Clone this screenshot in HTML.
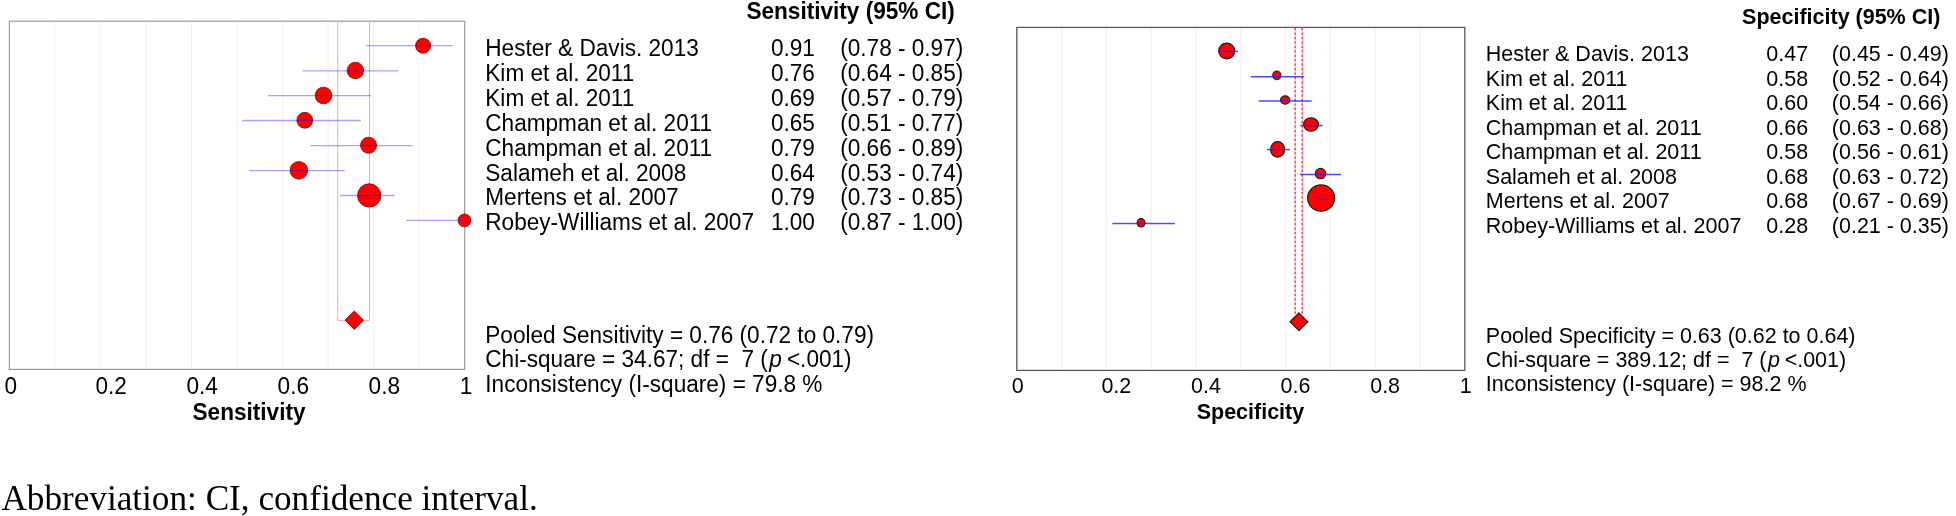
<!DOCTYPE html>
<html><head><meta charset="utf-8"><title>Forest plot</title>
<style>
html,body{margin:0;padding:0;background:#fff;}
body{width:1956px;height:516px;overflow:hidden;position:relative;}
svg{position:absolute;left:0;top:0;will-change:transform;}
.s{font-family:"Liberation Sans",Arial,sans-serif;fill:#000;}
.cap{position:absolute;left:0;top:0;font-family:"Liberation Serif","Times New Roman",serif;color:#000;white-space:pre;}
</style></head><body>
<svg width="1956" height="516" viewBox="0 0 1956 516">

<g id="left">
<line x1="54.9" y1="22" x2="54.9" y2="369" stroke="#f0dcec" stroke-width="1" stroke-dasharray="1 1"/>
<line x1="100.5" y1="22" x2="100.5" y2="369" stroke="#f0dcec" stroke-width="1" stroke-dasharray="1 1"/>
<line x1="146.0" y1="22" x2="146.0" y2="369" stroke="#f0dcec" stroke-width="1" stroke-dasharray="1 1"/>
<line x1="191.5" y1="22" x2="191.5" y2="369" stroke="#f0dcec" stroke-width="1" stroke-dasharray="1 1"/>
<line x1="237.1" y1="22" x2="237.1" y2="369" stroke="#f0dcec" stroke-width="1" stroke-dasharray="1 1"/>
<line x1="282.6" y1="22" x2="282.6" y2="369" stroke="#f0dcec" stroke-width="1" stroke-dasharray="1 1"/>
<line x1="328.1" y1="22" x2="328.1" y2="369" stroke="#f0dcec" stroke-width="1" stroke-dasharray="1 1"/>
<line x1="373.6" y1="22" x2="373.6" y2="369" stroke="#f0dcec" stroke-width="1" stroke-dasharray="1 1"/>
<line x1="419.2" y1="22" x2="419.2" y2="369" stroke="#f0dcec" stroke-width="1" stroke-dasharray="1 1"/>
<rect x="9.4" y="21.2" width="455.3" height="348.2" fill="none" stroke="#999999" stroke-width="1.2"/>
<path d="M337.7 21.2 V320.4 H369.5 V21.2" fill="none" stroke="#f5aaa6" stroke-width="1"/>
<circle cx="423.1" cy="45.7" r="7.55" fill="#ff0000" stroke="#6a0000" stroke-width="0.7"/>
<circle cx="355.4" cy="70.5" r="8.30" fill="#ff0000" stroke="#6a0000" stroke-width="0.7"/>
<circle cx="323.5" cy="95.5" r="8.35" fill="#ff0000" stroke="#6a0000" stroke-width="0.7"/>
<circle cx="304.8" cy="120.3" r="7.95" fill="#ff0000" stroke="#6a0000" stroke-width="0.7"/>
<circle cx="368.6" cy="145.3" r="8.05" fill="#ff0000" stroke="#6a0000" stroke-width="0.7"/>
<circle cx="298.9" cy="170.3" r="8.85" fill="#ff0000" stroke="#6a0000" stroke-width="0.7"/>
<circle cx="369.2" cy="195.4" r="11.70" fill="#ff0000" stroke="#6a0000" stroke-width="0.7"/>
<circle cx="464.5" cy="220.4" r="6.45" fill="#ff0000" stroke="#6a0000" stroke-width="0.7"/>
<line x1="365.9" y1="45.6" x2="452.7" y2="45.6" stroke="#0000ff" stroke-opacity="0.36" stroke-width="1.3"/>
<line x1="302.6" y1="70.8" x2="398.2" y2="70.8" stroke="#0000ff" stroke-opacity="0.36" stroke-width="1.3"/>
<line x1="268.0" y1="95.6" x2="371.0" y2="95.6" stroke="#0000ff" stroke-opacity="0.36" stroke-width="1.3"/>
<line x1="242.1" y1="120.5" x2="360.9" y2="120.5" stroke="#0000ff" stroke-opacity="0.36" stroke-width="1.3"/>
<line x1="310.3" y1="145.6" x2="412.9" y2="145.6" stroke="#0000ff" stroke-opacity="0.36" stroke-width="1.3"/>
<line x1="249.1" y1="170.6" x2="344.7" y2="170.6" stroke="#0000ff" stroke-opacity="0.36" stroke-width="1.3"/>
<line x1="339.9" y1="195.5" x2="394.5" y2="195.5" stroke="#0000ff" stroke-opacity="0.36" stroke-width="1.3"/>
<line x1="406.2" y1="220.3" x2="464.7" y2="220.3" stroke="#0000ff" stroke-opacity="0.36" stroke-width="1.3"/>
<path d="M354.3 311 L363.6 320.2 L354.3 329.4 L345 320.2 Z" fill="#ff0000" stroke="#450000" stroke-width="0.8"/>
</g>
<g id="right">
<line x1="1061.6" y1="28" x2="1061.6" y2="370" stroke="#f1ecf2" stroke-width="1"/>
<line x1="1106.4" y1="28" x2="1106.4" y2="370" stroke="#f1ecf2" stroke-width="1"/>
<line x1="1151.2" y1="28" x2="1151.2" y2="370" stroke="#f1ecf2" stroke-width="1"/>
<line x1="1196.0" y1="28" x2="1196.0" y2="370" stroke="#f1ecf2" stroke-width="1"/>
<line x1="1240.8" y1="28" x2="1240.8" y2="370" stroke="#f1ecf2" stroke-width="1"/>
<line x1="1285.6" y1="28" x2="1285.6" y2="370" stroke="#f1ecf2" stroke-width="1"/>
<line x1="1330.4" y1="28" x2="1330.4" y2="370" stroke="#f1ecf2" stroke-width="1"/>
<line x1="1375.2" y1="28" x2="1375.2" y2="370" stroke="#f1ecf2" stroke-width="1"/>
<line x1="1420.0" y1="28" x2="1420.0" y2="370" stroke="#f1ecf2" stroke-width="1"/>
<rect x="1016.8" y="27.4" width="448" height="343" fill="none" stroke="#5a5a55" stroke-width="1.3"/>
<line x1="1295.2" y1="28.1" x2="1295.2" y2="314" stroke="#ffc4cc" stroke-width="1.3"/>
<line x1="1295.2" y1="28.1" x2="1295.2" y2="314" stroke="#ff3040" stroke-width="1.3" stroke-dasharray="2.2 2.23"/>
<line x1="1302.2" y1="28.1" x2="1302.2" y2="314" stroke="#ffc4cc" stroke-width="1.3"/>
<line x1="1302.2" y1="28.1" x2="1302.2" y2="314" stroke="#ff3040" stroke-width="1.3" stroke-dasharray="2.2 2.23"/>
<ellipse cx="1226.7" cy="51.0" rx="8.05" ry="7.90" fill="#ff0000" stroke="#1a1a1a" stroke-width="1.1"/>
<ellipse cx="1276.8" cy="75.4" rx="4.10" ry="4.35" fill="#ff0000" stroke="#1a1a1a" stroke-width="1.1"/>
<ellipse cx="1285.2" cy="100.0" rx="4.75" ry="4.15" fill="#ff0000" stroke="#1a1a1a" stroke-width="1.1"/>
<ellipse cx="1311.0" cy="124.5" rx="7.40" ry="6.75" fill="#ff0000" stroke="#1a1a1a" stroke-width="1.1"/>
<ellipse cx="1277.6" cy="149.4" rx="7.05" ry="7.80" fill="#ff0000" stroke="#1a1a1a" stroke-width="1.1"/>
<ellipse cx="1320.5" cy="173.6" rx="5.20" ry="5.20" fill="#ff0000" stroke="#1a1a1a" stroke-width="1.1"/>
<ellipse cx="1321.1" cy="198.1" rx="13.55" ry="13.20" fill="#ff0000" stroke="#1a1a1a" stroke-width="1.1"/>
<ellipse cx="1141.1" cy="222.8" rx="3.95" ry="4.25" fill="#ff0000" stroke="#1a1a1a" stroke-width="1.1"/>
<line x1="1218.0" y1="51.4" x2="1238.0" y2="51.4" stroke="#2020ff" stroke-opacity="0.8" stroke-width="1.5"/>
<line x1="1250.9" y1="76.7" x2="1303.9" y2="76.7" stroke="#2020ff" stroke-opacity="0.8" stroke-width="1.5"/>
<line x1="1258.8" y1="101.1" x2="1311.6" y2="101.1" stroke="#2020ff" stroke-opacity="0.8" stroke-width="1.5"/>
<line x1="1300.4" y1="125.5" x2="1322.8" y2="125.5" stroke="#2020ff" stroke-opacity="0.8" stroke-width="1.5"/>
<line x1="1267.0" y1="149.6" x2="1290.0" y2="149.6" stroke="#2020ff" stroke-opacity="0.8" stroke-width="1.5"/>
<line x1="1299.9" y1="174.4" x2="1341.1" y2="174.4" stroke="#2020ff" stroke-opacity="0.8" stroke-width="1.5"/>
<line x1="1316.4" y1="199.2" x2="1326.4" y2="199.2" stroke="#2020ff" stroke-opacity="0.8" stroke-width="1.5"/>
<line x1="1112.4" y1="223.4" x2="1174.8" y2="223.4" stroke="#2020ff" stroke-opacity="0.8" stroke-width="1.5"/>
<path d="M1298.9 312.8 L1307.8 321.8 L1298.9 330.7 L1290 321.8 Z" fill="#ff0000" stroke="#1a1a1a" stroke-width="1.1"/>
</g>
<g class="s" font-size="22.6">
<text transform="translate(746.4 19.2) scale(1 1.04)" font-weight="bold">Sensitivity (95% CI)</text>
<text transform="translate(485.3 56.2) scale(1 1.04)">Hester &amp; Davis. 2013</text>
<text transform="translate(770.9 56.2) scale(1 1.04)">0.91</text>
<text transform="translate(840.2 56.2) scale(1 1.04)">(0.78 - 0.97)</text>
<text transform="translate(485.3 81.1) scale(1 1.04)">Kim et al. 2011</text>
<text transform="translate(770.9 81.1) scale(1 1.04)">0.76</text>
<text transform="translate(840.2 81.1) scale(1 1.04)">(0.64 - 0.85)</text>
<text transform="translate(485.3 105.9) scale(1 1.04)">Kim et al. 2011</text>
<text transform="translate(770.9 105.9) scale(1 1.04)">0.69</text>
<text transform="translate(840.2 105.9) scale(1 1.04)">(0.57 - 0.79)</text>
<text transform="translate(485.3 130.8) scale(1 1.04)">Champman et al. 2011</text>
<text transform="translate(770.9 130.8) scale(1 1.04)">0.65</text>
<text transform="translate(840.2 130.8) scale(1 1.04)">(0.51 - 0.77)</text>
<text transform="translate(485.3 155.6) scale(1 1.04)">Champman et al. 2011</text>
<text transform="translate(770.9 155.6) scale(1 1.04)">0.79</text>
<text transform="translate(840.2 155.6) scale(1 1.04)">(0.66 - 0.89)</text>
<text transform="translate(485.3 180.5) scale(1 1.04)">Salameh et al. 2008</text>
<text transform="translate(770.9 180.5) scale(1 1.04)">0.64</text>
<text transform="translate(840.2 180.5) scale(1 1.04)">(0.53 - 0.74)</text>
<text transform="translate(485.3 205.3) scale(1 1.04)">Mertens et al. 2007</text>
<text transform="translate(770.9 205.3) scale(1 1.04)">0.79</text>
<text transform="translate(840.2 205.3) scale(1 1.04)">(0.73 - 0.85)</text>
<text transform="translate(485.3 230.2) scale(1 1.04)">Robey-Williams et al. 2007</text>
<text transform="translate(770.9 230.2) scale(1 1.04)">1.00</text>
<text transform="translate(840.2 230.2) scale(1 1.04)">(0.87 - 1.00)</text>
<text transform="translate(485.3 343.0) scale(1 1.04)">Pooled Sensitivity = 0.76 (0.72 to 0.79)</text>
<text transform="translate(485.3 367.3) scale(1 1.04)" xml:space="preserve" style="white-space:pre">Chi-square = 34.67; df =  7 (<tspan font-style="italic" dx="1.4">p</tspan><tspan dx="-1.2"> &lt;.001)</tspan></text>
<text transform="translate(485.3 391.5) scale(1 1.04)">Inconsistency (I-square) = 79.8 %</text>
<text transform="translate(4.4 393.8) scale(1 1.04)">0</text>
<text transform="translate(95.5 393.8) scale(1 1.04)">0.2</text>
<text transform="translate(186.5 393.8) scale(1 1.04)">0.4</text>
<text transform="translate(277.6 393.8) scale(1 1.04)">0.6</text>
<text transform="translate(368.6 393.8) scale(1 1.04)">0.8</text>
<text transform="translate(459.7 393.8) scale(1 1.04)">1</text>
<text transform="translate(192.5 419.6) scale(1 1.04)" font-weight="bold">Sensitivity</text>
</g>
<g class="s" font-size="21.5">
<text transform="translate(1742.1 24.1) scale(1 1.04)" font-weight="bold">Specificity (95% CI)</text>
<text transform="translate(1485.8 61.2) scale(1 1.04)">Hester &amp; Davis. 2013</text>
<text transform="translate(1766.3 61.2) scale(1 1.04)">0.47</text>
<text transform="translate(1831.8 61.2) scale(1 1.04)">(0.45 - 0.49)</text>
<text transform="translate(1485.8 85.7) scale(1 1.04)">Kim et al. 2011</text>
<text transform="translate(1766.3 85.7) scale(1 1.04)">0.58</text>
<text transform="translate(1831.8 85.7) scale(1 1.04)">(0.52 - 0.64)</text>
<text transform="translate(1485.8 110.1) scale(1 1.04)">Kim et al. 2011</text>
<text transform="translate(1766.3 110.1) scale(1 1.04)">0.60</text>
<text transform="translate(1831.8 110.1) scale(1 1.04)">(0.54 - 0.66)</text>
<text transform="translate(1485.8 134.6) scale(1 1.04)">Champman et al. 2011</text>
<text transform="translate(1766.3 134.6) scale(1 1.04)">0.66</text>
<text transform="translate(1831.8 134.6) scale(1 1.04)">(0.63 - 0.68)</text>
<text transform="translate(1485.8 159.1) scale(1 1.04)">Champman et al. 2011</text>
<text transform="translate(1766.3 159.1) scale(1 1.04)">0.58</text>
<text transform="translate(1831.8 159.1) scale(1 1.04)">(0.56 - 0.61)</text>
<text transform="translate(1485.8 183.6) scale(1 1.04)">Salameh et al. 2008</text>
<text transform="translate(1766.3 183.6) scale(1 1.04)">0.68</text>
<text transform="translate(1831.8 183.6) scale(1 1.04)">(0.63 - 0.72)</text>
<text transform="translate(1485.8 208.0) scale(1 1.04)">Mertens et al. 2007</text>
<text transform="translate(1766.3 208.0) scale(1 1.04)">0.68</text>
<text transform="translate(1831.8 208.0) scale(1 1.04)">(0.67 - 0.69)</text>
<text transform="translate(1485.8 232.5) scale(1 1.04)">Robey-Williams et al. 2007</text>
<text transform="translate(1766.3 232.5) scale(1 1.04)">0.28</text>
<text transform="translate(1831.8 232.5) scale(1 1.04)">(0.21 - 0.35)</text>
<text transform="translate(1485.8 342.9) scale(1 1.04)">Pooled Specificity = 0.63 (0.62 to 0.64)</text>
<text transform="translate(1485.8 367.4) scale(1 1.04)" xml:space="preserve" style="white-space:pre">Chi-square = 389.12; df =  7 (<tspan font-style="italic" dx="1.4">p</tspan><tspan dx="-1.2"> &lt;.001)</tspan></text>
<text transform="translate(1485.8 391.4) scale(1 1.04)">Inconsistency (I-square) = 98.2 %</text>
<text transform="translate(1011.8 393.4) scale(1 1.04)">0</text>
<text transform="translate(1101.4 393.4) scale(1 1.04)">0.2</text>
<text transform="translate(1191.0 393.4) scale(1 1.04)">0.4</text>
<text transform="translate(1280.6 393.4) scale(1 1.04)">0.6</text>
<text transform="translate(1370.2 393.4) scale(1 1.04)">0.8</text>
<text transform="translate(1459.8 393.4) scale(1 1.04)">1</text>
<text transform="translate(1196.7 419.4) scale(1 1.04)" font-weight="bold">Specificity</text>
</g>
<text x="1.4" y="510" font-family="Liberation Serif, Times New Roman, serif" font-size="35.2" fill="#000">Abbreviation: CI, confidence interval.</text>
</svg>
</body></html>
